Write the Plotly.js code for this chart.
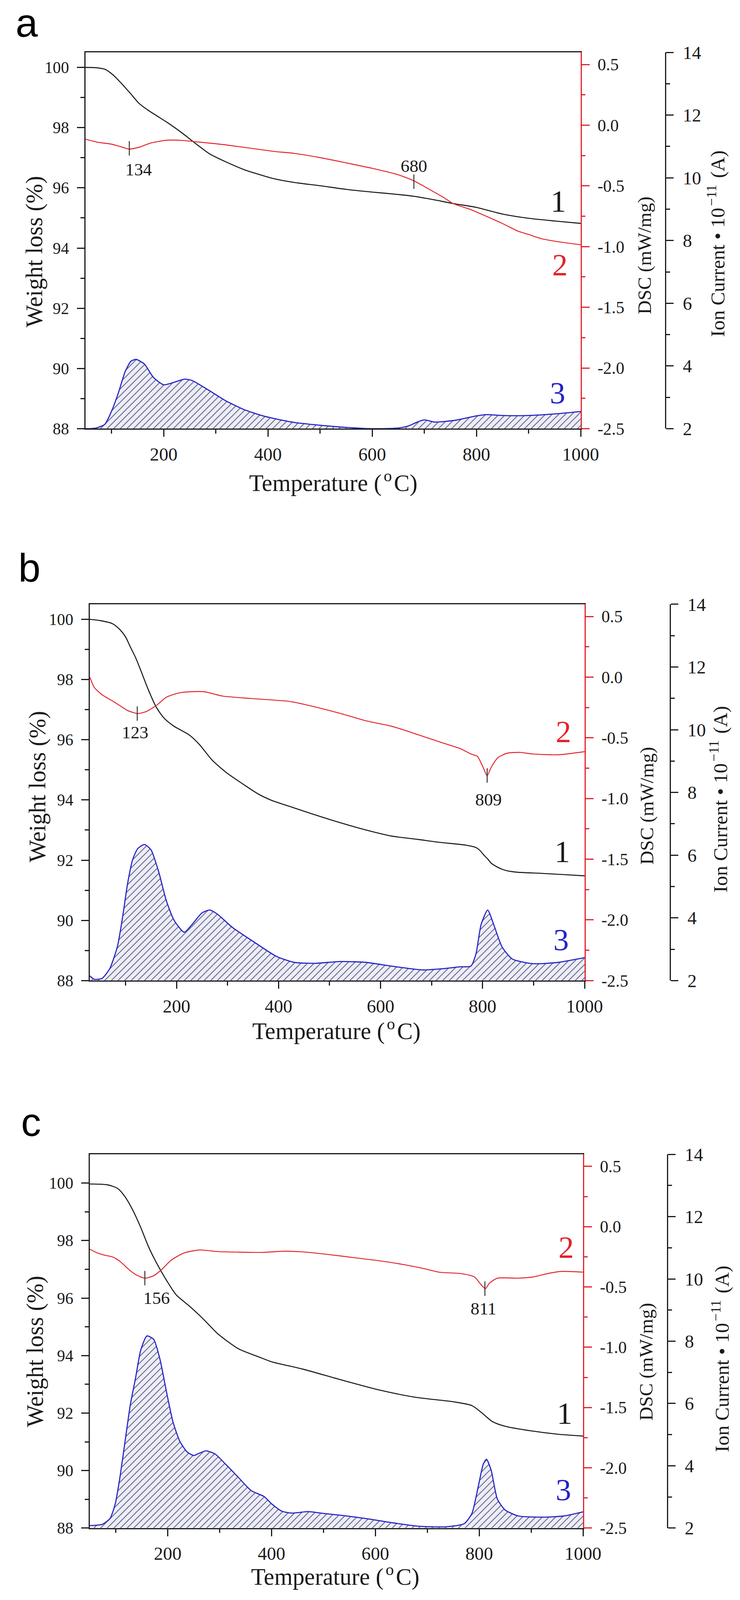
<!DOCTYPE html>
<html>
<head>
<meta charset="utf-8">
<script src="https://cdn.plot.ly/plotly-3.0.1.min.js"></script>
<style>
html,body{margin:0;padding:0;background:#ffffff;overflow:hidden;}
#chart{width:1895px;}
</style>
</head>
<body>
<div id="chart"></div>
<script>
// ---------------- DATA ----------------
// Panel a
const aTgaT = [50, 70, 87, 103, 120, 137, 153, 170, 187, 207, 234, 254, 288, 321, 355, 388, 410, 450, 500, 550, 600, 650, 680, 720, 755, 800, 850, 900, 950, 1000];
const aTgaW = [100.0, 99.99, 99.94, 99.75, 99.45, 99.12, 98.8, 98.58, 98.39, 98.17, 97.84, 97.57, 97.13, 96.85, 96.6, 96.42, 96.31, 96.18, 96.07, 95.95, 95.86, 95.78, 95.72, 95.6, 95.48, 95.35, 95.13, 94.99, 94.9, 94.82];
const aDscT = [50, 73, 100, 120, 134, 154, 174, 207, 234, 254, 321, 410, 450, 500, 550, 600, 650, 680, 700, 737, 755, 790, 850, 880, 900, 925, 950, 1000];
const aDscV = [-0.115, -0.14, -0.156, -0.18, -0.197, -0.18, -0.148, -0.123, -0.125, -0.133, -0.163, -0.215, -0.232, -0.267, -0.31, -0.355, -0.408, -0.458, -0.505, -0.595, -0.645, -0.697, -0.81, -0.873, -0.9, -0.935, -0.955, -0.985];
const aIonT = [50, 70, 87, 100, 113, 126, 137, 147, 163, 180, 200, 220, 240, 254, 287, 320, 354, 388, 410, 450, 500, 550, 600, 650, 670, 685, 700, 720, 760, 800, 820, 850, 900, 950, 1000];
const aIonV = [2.0, 2.02, 2.14, 2.56, 3.14, 3.82, 4.15, 4.21, 4.06, 3.64, 3.40, 3.48, 3.58, 3.54, 3.22, 2.88, 2.61, 2.42, 2.33, 2.2, 2.11, 2.04, 2.0, 2.02, 2.09, 2.2, 2.28, 2.21, 2.27, 2.41, 2.45, 2.42, 2.42, 2.47, 2.55];
const aPeakT = [134, 680];
const aPeakV = [-0.19, -0.465];
const aPeakLabels = ['134', '680'];

// Panel b
const bTgaT = [30, 50, 74, 89, 100, 109, 120, 130, 145, 160, 175, 195, 225, 245, 270, 300, 331, 361, 386, 421, 471, 522, 572, 622, 673, 717, 767, 787, 795, 802, 810, 817, 828, 838, 850, 868, 918, 960, 1000];
const bTgaW = [100, 99.96, 99.86, 99.66, 99.42, 99.1, 98.72, 98.3, 97.65, 97.09, 96.73, 96.45, 96.16, 95.84, 95.32, 94.88, 94.52, 94.19, 93.99, 93.79, 93.51, 93.24, 93.0, 92.8, 92.69, 92.59, 92.5, 92.42, 92.32, 92.18, 92.04, 91.9, 91.78, 91.7, 91.64, 91.6, 91.56, 91.52, 91.48];
const bDscT = [30, 39, 54, 74, 89, 104, 123, 140, 160, 180, 205, 230, 255, 290, 346, 421, 451, 522, 572, 622, 673, 723, 757, 777, 790, 800, 809, 817, 830, 848, 873, 898, 948, 1000];
const bDscV = [0.0, -0.086, -0.145, -0.195, -0.235, -0.275, -0.30, -0.285, -0.235, -0.166, -0.13, -0.12, -0.121, -0.156, -0.176, -0.2, -0.225, -0.30, -0.36, -0.405, -0.474, -0.544, -0.59, -0.633, -0.653, -0.733, -0.812, -0.742, -0.664, -0.627, -0.62, -0.633, -0.64, -0.614];
const bIonT = [30, 39, 54, 69, 84, 94, 104, 114, 124, 137, 150, 165, 180, 195, 215, 230, 250, 265, 280, 310, 351, 396, 431, 471, 522, 572, 622, 683, 723, 757, 777, 787, 797, 810, 822, 838, 858, 898, 948, 1000];
const bIonV = [2.15, 2.04, 2.07, 2.38, 3.08, 4.0, 5.09, 5.86, 6.21, 6.34, 6.17, 5.47, 4.55, 3.93, 3.54, 3.78, 4.16, 4.25, 4.12, 3.69, 3.24, 2.77, 2.58, 2.55, 2.61, 2.58, 2.46, 2.34, 2.38, 2.44, 2.46, 2.85, 3.78, 4.25, 3.78, 3.08, 2.69, 2.54, 2.58, 2.73];
const bPeakT = [123, 809];
const bPeakV = [-0.30, -0.81];
const bPeakLabels = ['123', '809'];

// Panel c
const cTgaT = [50, 84, 104, 118, 133, 148, 163, 178, 198, 217, 242, 267, 297, 336, 376, 401, 460, 535, 608, 677, 751, 786, 805, 825, 850, 900, 949, 1000];
const cTgaW = [99.97, 99.94, 99.81, 99.52, 99.05, 98.46, 97.79, 97.24, 96.61, 96.1, 95.72, 95.3, 94.75, 94.24, 93.95, 93.78, 93.53, 93.15, 92.8, 92.55, 92.39, 92.26, 92.01, 91.71, 91.54, 91.38, 91.27, 91.2];
const cDscT = [50, 64, 79, 94, 108, 123, 138, 156, 173, 188, 207, 232, 262, 297, 336, 386, 425, 465, 510, 559, 608, 658, 693, 722, 766, 791, 803, 812, 820, 835, 875, 904, 934, 959, 1000];
const cDscV = [-0.187, -0.217, -0.237, -0.251, -0.287, -0.347, -0.397, -0.427, -0.407, -0.357, -0.277, -0.217, -0.193, -0.207, -0.211, -0.213, -0.203, -0.211, -0.231, -0.257, -0.283, -0.317, -0.347, -0.377, -0.39, -0.417, -0.478, -0.514, -0.468, -0.427, -0.427, -0.417, -0.387, -0.371, -0.377];
const cIonT = [50, 74, 89, 99, 108, 118, 128, 138, 148, 160, 173, 185, 198, 210, 223, 237, 250, 259, 274, 292, 311, 336, 361, 386, 400, 420, 440, 470, 500, 534, 584, 633, 683, 736, 771, 786, 798, 808, 814, 823, 835, 850, 875, 924, 964, 1000];
const cIonV = [2.08, 2.12, 2.31, 2.78, 3.63, 4.8, 5.96, 6.81, 7.71, 8.17, 8.06, 7.43, 6.35, 5.42, 4.8, 4.45, 4.33, 4.39, 4.48, 4.37, 4.06, 3.63, 3.2, 3.01, 2.78, 2.54, 2.48, 2.53, 2.47, 2.41, 2.3, 2.17, 2.06, 2.04, 2.14, 2.47, 3.32, 4.06, 4.21, 3.86, 2.93, 2.58, 2.39, 2.35, 2.39, 2.52];
const cPeakT = [156, 811];
const cPeakV = [-0.427, -0.514];
const cPeakLabels = ['156', '811'];

// Tick values and labels
const tempTickVals = [200, 400, 600, 800, 1000];
const tempTickText = ['200', '400', '600', '800', '1000'];
const tempMinorVals = [100, 300, 500, 700, 900];
const weightTickVals = [88, 90, 92, 94, 96, 98, 100];
const weightTickText = ['88', '90', '92', '94', '96', '98', '100'];
const weightMinorVals = [89, 91, 93, 95, 97, 99];
const dscTickVals = [-2.5, -2.0, -1.5, -1.0, -0.5, 0.0, 0.5];
const dscTickText = ['-2.5', '-2.0', '-1.5', '-1.0', '-0.5', '0.0', '0.5'];
const dscMinorVals = [-2.25, -1.75, -1.25, -0.75, -0.25, 0.25];
const ionTickVals = [2, 4, 6, 8, 10, 12, 14];
const ionTickText = ['2', '4', '6', '8', '10', '12', '14'];
const ionMinorVals = [3, 5, 7, 9, 11, 13];

// Texts
const panelLetters = ['a', 'b', 'c'];
const curveNames = ['1', '2', '3'];
const xTitle = 'Temperature (<sup>o</sup>C)';
const wTitle = 'Weight loss (%)';
const dTitle = 'DSC (mW/mg)';
const iTitle = 'Ion Current • 10<sup>−11</sup> (A)';

// ---------------- LAYOUT / STYLE ----------------
// Geometry is measured on the 1895 x 4337 reference; positions are kept as
// fractions of the figure, so the figure fits the height the window offers.
const REF_W = 1895, REF_H = 4337;
const FIG_W = REF_W;
const FIG_H = Math.min(REF_H, window.innerHeight || REF_H);
const S = FIG_H / REF_H;                 // vertical fit factor
const fs = v => Math.round(v * S * 10) / 10;
document.getElementById('chart').style.height = FIG_H + 'px';
const px = x => x / REF_W;
const py = y => 1 - y / REF_H;
const SERIF = 'Liberation Serif, Times New Roman, serif';
const SANS = 'Liberation Sans, Arial, sans-serif';
const BLACK = '#1a1a1a', RED = '#e3222c', BLUE = '#2323c8', TICKMARK = '#333333';

const panels = [
  {tgaT: aTgaT, tgaW: aTgaW, dscT: aDscT, dscV: aDscV, ionT: aIonT, ionV: aIonV,
   peakT: aPeakT, peakV: aPeakV, peakLabels: aPeakLabels,
   box: {left: 219, right: 1487, top: 142, bottom: 1162, ionX: 1704},
   xRange: [50, 1000], wRange: [88, 100.5],
   letter: [68, 0], wT: [88, 682], tT: [853, 1305], dT: [1650, 693], iT: [1834, 661],
   curveLab: [[1430, 544], [1434, 717], [1428, 1064]], peakLab: [[355, 460], [1060, 450]]},
  {tgaT: bTgaT, tgaW: bTgaW, dscT: bDscT, dscV: bDscV, ionT: bIonT, ionV: bIonV,
   peakT: bPeakT, peakV: bPeakV, peakLabels: bPeakLabels,
   box: {left: 230, right: 1497, top: 1638, bottom: 2658, ionX: 1716},
   xRange: [30, 1000], wRange: [88, 100.5],
   letter: [75, 1540], wT: [96, 2132], tT: [861, 2791], dT: [1657, 2185], iT: [1840, 2167],
   curveLab: [[1440, 2307], [1443, 1982], [1437, 2547]], peakLab: [[346, 1985], [1251, 2167]]},
  {tgaT: cTgaT, tgaW: cTgaW, dscT: cDscT, dscV: cDscV, ionT: cIonT, ionV: cIonV,
   peakT: cPeakT, peakV: cPeakV, peakLabels: cPeakLabels,
   box: {left: 230, right: 1493, top: 3129, bottom: 4142, ionX: 1709},
   xRange: [50, 1000], wRange: [88, 101],
   letter: [79, 3042], wT: [90, 3663], tT: [858, 4270], dT: [1655, 3692], iT: [1845, 3684],
   curveLab: [[1446, 3830], [1450, 3380], [1443, 4037]], peakLab: [[401, 3519], [1238, 3547]]}
];

const traces = [];
const annotations = [];
const layout = {
  width: FIG_W, height: FIG_H,
  margin: {l: 0, r: 0, t: 0, b: 0, pad: 0},
  paper_bgcolor: '#ffffff', plot_bgcolor: '#ffffff',
  showlegend: false,
  font: {family: SERIF, color: BLACK}
};

function ann(text, x, y, size, color, extra) {
  annotations.push(Object.assign({
    text: text, x: px(x), y: py(y), xref: 'paper', yref: 'paper',
    xanchor: 'center', yanchor: 'middle', showarrow: false,
    font: {family: SERIF, size: fs(size), color: color}
  }, extra || {}));
}

panels.forEach((p, i) => {
  const xName = i === 0 ? 'xaxis' : 'xaxis' + (i + 1);
  const xRef = i === 0 ? 'x' : 'x' + (i + 1);
  const yi = [3 * i + 1, 3 * i + 2, 3 * i + 3];
  const yName = yi.map(k => k === 1 ? 'yaxis' : 'yaxis' + k);
  const yRef = yi.map(k => k === 1 ? 'y' : 'y' + k);
  const b = p.box;

  layout[xName] = {
    domain: [px(b.left), px(b.right)], anchor: yRef[0], range: p.xRange,
    showline: true, linecolor: BLACK, linewidth: 3, mirror: true,
    ticks: 'outside', ticklen: fs(19), tickwidth: 3, tickcolor: BLACK,
    tickmode: 'array', tickvals: tempTickVals, ticktext: tempTickText,
    minor: {tickmode: 'array', tickvals: tempMinorVals, ticks: 'outside', ticklen: fs(10), tickwidth: 3, tickcolor: BLACK, showgrid: false},
    showgrid: false, zeroline: false, ticklabelstandoff: 4,
    tickfont: {family: SERIF, size: fs(50), color: BLACK}
  };
  layout[yName[0]] = {
    domain: [py(b.bottom), py(b.top)], anchor: xRef, range: p.wRange,
    showline: true, linecolor: BLACK, linewidth: 3,
    ticks: 'outside', ticklen: 19, tickwidth: 3, tickcolor: BLACK,
    tickmode: 'array', tickvals: weightTickVals, ticktext: weightTickText,
    minor: {tickmode: 'array', tickvals: weightMinorVals, ticks: 'outside', ticklen: 10, tickwidth: 3, tickcolor: BLACK, showgrid: false},
    showgrid: false, zeroline: false, ticklabelstandoff: 12,
    tickfont: {family: SERIF, size: fs(44), color: BLACK}
  };
  layout[yName[1]] = {
    overlaying: yRef[0], side: 'right', anchor: xRef, range: [-2.5, 0.6],
    showline: true, linecolor: RED, linewidth: 2.5,
    ticks: 'outside', ticklen: 20, tickwidth: 3, tickcolor: RED,
    tickmode: 'array', tickvals: dscTickVals, ticktext: dscTickText,
    minor: {tickmode: 'array', tickvals: dscMinorVals, ticks: 'outside', ticklen: 9, tickwidth: 3, tickcolor: RED, showgrid: false},
    showgrid: false, zeroline: false, ticklabelstandoff: 12,
    tickfont: {family: SERIF, size: fs(46), color: BLACK}
  };
  layout[yName[2]] = {
    overlaying: yRef[0], side: 'right', anchor: 'free', position: px(b.ionX), range: [2, 14],
    showline: true, linecolor: BLACK, linewidth: 3,
    ticks: 'outside', ticklen: 19, tickwidth: 3, tickcolor: BLACK,
    tickmode: 'array', tickvals: ionTickVals, ticktext: ionTickText,
    minor: {tickmode: 'array', tickvals: ionMinorVals, ticks: 'outside', ticklen: 10, tickwidth: 3, tickcolor: BLACK, showgrid: false},
    showgrid: false, zeroline: false, ticklabelstandoff: 14,
    tickfont: {family: SERIF, size: fs(50), color: BLACK}
  };

  // Curve 1: weight loss (TG)
  traces.push({x: p.tgaT, y: p.tgaW, xaxis: xRef, yaxis: yRef[0], type: 'scatter', mode: 'lines',
    line: {color: BLACK, width: 2.6, shape: 'spline', smoothing: 0.7}, hoverinfo: 'skip'});
  // Curve 2: DSC
  traces.push({x: p.dscT, y: p.dscV, xaxis: xRef, yaxis: yRef[1], type: 'scatter', mode: 'lines',
    line: {color: RED, width: 2.4, shape: 'spline', smoothing: 0.6}, hoverinfo: 'skip'});
  // peak tick marks on DSC
  traces.push({x: p.peakT, y: p.peakV, xaxis: xRef, yaxis: yRef[1], type: 'scatter', mode: 'markers',
    marker: {symbol: 'line-ns', size: fs(28), color: TICKMARK, line: {width: 2.5, color: TICKMARK}}, hoverinfo: 'skip'});
  // Curve 3: ion current, hatched
  traces.push({x: p.ionT, y: p.ionV, xaxis: xRef, yaxis: yRef[2], type: 'scatter', mode: 'lines',
    line: {color: BLUE, width: 2.8, shape: 'spline', smoothing: 0.6},
    fill: 'tozeroy', fillcolor: '#ececf8',
    fillpattern: {shape: '/', size: 12, solidity: 0.16, fgcolor: '#4d4d6e', bgcolor: '#ededf9', fillmode: 'replace'},
    hoverinfo: 'skip'});

  // Text
  const letterExtra = {font: {family: SANS, size: fs(108), color: '#000000'}};
  if (i === 0) letterExtra.yanchor = 'top';
  ann(panelLetters[i], p.letter[0], p.letter[1], 108, '#000000', letterExtra);
  ann(wTitle, p.wT[0], p.wT[1], 64, BLACK, {textangle: -90});
  ann(xTitle, p.tT[0], p.tT[1], 64, BLACK);
  ann(dTitle, p.dT[0], p.dT[1], 52, BLACK, {textangle: -90});
  ann(iTitle, p.iT[0], p.iT[1], 54, BLACK, {textangle: -90});
  ann(curveNames[0], p.curveLab[0][0], p.curveLab[0][1], 84, BLACK);
  ann(curveNames[1], p.curveLab[1][0], p.curveLab[1][1], 84, RED);
  ann(curveNames[2], p.curveLab[2][0], p.curveLab[2][1], 84, BLUE);
  p.peakLabels.forEach((t, k) => ann(t, p.peakLab[k][0], p.peakLab[k][1], 48, BLACK));
});

layout.annotations = annotations;

Plotly.newPlot('chart', traces, layout, {staticPlot: true, displayModeBar: false}).then(gd => {
  // superscript baseline-reset pieces are zero-width-space tspans: give them a hair space
  gd.querySelectorAll('tspan').forEach(t => {
    if (t.childElementCount === 0 && t.textContent.length && !t.textContent.replace(/\u200b/g, '')) {
      t.textContent = '\u200a';
    }
  });
  // strip leading zero-width spaces inside text nodes as well
  const walker = document.createTreeWalker(gd, NodeFilter.SHOW_TEXT);
  const nodes = [];
  while (walker.nextNode()) nodes.push(walker.currentNode);
  nodes.forEach(n => {
    if (n.nodeValue.indexOf('\u200b') >= 0) {
      const cleaned = n.nodeValue.replace(/\u200b/g, '');
      n.nodeValue = cleaned.length ? cleaned : '\u200a';
    }
  });
  // remove leftover empty text elements (untitled axes)
  gd.querySelectorAll('text').forEach(t => {
    if (!t.textContent.replace(/\s/g, '').length && !t.textContent.includes('\u200a')) t.remove();
  });
});
</script>
</body>
</html>
